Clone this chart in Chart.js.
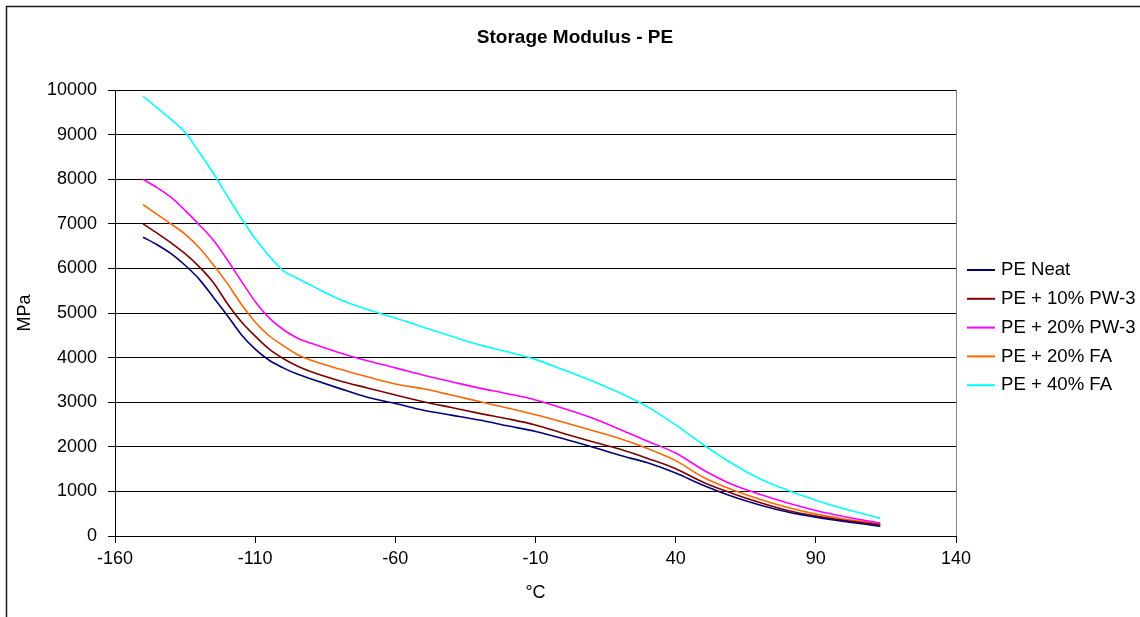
<!DOCTYPE html>
<html>
<head>
<meta charset="utf-8">
<title>Storage Modulus - PE</title>
<script src="https://cdn.jsdelivr.net/npm/chart.js@4.4.1/dist/chart.umd.min.js"></script>
<style>
  html, body { margin: 0; padding: 0; background: #fff; }
  #wrap { width: 1140px; height: 617px; }
</style>
</head>
<body>
<div id="wrap"><canvas id="modulusChart" width="1140" height="617"></canvas></div>
<script>
// temperature (°C) and storage modulus (MPa) for each blend
const temps = [-150, -145, -140, -135, -130, -125, -120, -115, -110, -105, -100, -95, -90,
               -80, -70, -60, -50, -40, -30, -20, -10, 0, 10, 20, 30, 40, 50, 60, 70, 80, 90, 100, 110, 113];

const peNeat  = [6700, 6530, 6330, 6070, 5760, 5360, 4950, 4520, 4190, 3940, 3770, 3630, 3520,
                 3310, 3110, 2970, 2820, 2710, 2600, 2470, 2345, 2180, 2000, 1810, 1640, 1410, 1130, 890, 695, 537, 420, 325, 244, 215];
const pe10PW3 = [7000, 6790, 6570, 6330, 6040, 5690, 5220, 4810, 4480, 4190, 3980, 3810, 3680,
                 3480, 3320, 3160, 3010, 2880, 2750, 2630, 2490, 2300, 2120, 1950, 1740, 1510, 1200, 960, 750, 572, 446, 350, 274, 250];
const pe20PW3 = [8000, 7810, 7590, 7300, 6980, 6640, 6200, 5720, 5260, 4890, 4630, 4440, 4320,
                 4110, 3930, 3770, 3605, 3460, 3315, 3190, 3050, 2860, 2650, 2395, 2125, 1860, 1475, 1160, 935, 740, 573, 438, 324, 290];
const pe20FA  = [7430, 7210, 6995, 6770, 6470, 6090, 5670, 5200, 4800, 4490, 4270, 4070, 3940,
                 3745, 3570, 3410, 3300, 3160, 3015, 2870, 2720, 2550, 2370, 2185, 1960, 1690, 1310, 1040, 823, 638, 490, 382, 298, 272];
const pe40FA  = [9860, 9600, 9340, 9050, 8610, 8140, 7630, 7130, 6670, 6280, 5950, 5780, 5620,
                 5310, 5080, 4890, 4680, 4480, 4285, 4130, 3960, 3725, 3480, 3210, 2895, 2490, 2040, 1630, 1285, 1025, 803, 610, 447, 395];

const seriesNames = ['PE Neat', 'PE + 10% PW-3', 'PE + 20% PW-3', 'PE + 20% FA', 'PE + 40% FA'];
const seriesValues = [peNeat, pe10PW3, pe20PW3, pe20FA, pe40FA];
const seriesColors = ['#000080', '#800000', '#FF00FF', '#FF6600', '#00FFFF'];

const chartTitle = 'Storage Modulus - PE';
const FONT = '"Liberation Sans", Arial, sans-serif';

// white page, outer frame, title and the grey right edge of the plot
const frame = {
    id: 'frame',
    beforeDraw(chart) {
        const ctx = chart.ctx;
        ctx.save();
        ctx.fillStyle = '#fff';
        ctx.fillRect(0, 0, chart.width, chart.height);
        ctx.strokeStyle = '#1a1a1a';
        ctx.lineWidth = 1.5;
        ctx.strokeRect(6.5, 6.5, chart.width + 10, chart.height + 10);
        ctx.font = 'bold 19px ' + FONT;
        ctx.fillStyle = '#000';
        ctx.textAlign = 'center';
        ctx.textBaseline = 'middle';
        ctx.fillText(chartTitle, chart.width / 2 + 5, 38);
        ctx.restore();
    },
    beforeDatasetsDraw(chart) {
        const {ctx, chartArea} = chart;
        const x = Math.round(chartArea.right) + 0.5;
        ctx.save();
        ctx.strokeStyle = '#808080';
        ctx.lineWidth = 1;
        ctx.beginPath();
        ctx.moveTo(x, chartArea.top);
        ctx.lineTo(x, chartArea.bottom);
        ctx.stroke();
        ctx.restore();
    }
};

// legend to the right of the plot, Excel style
const sideLegend = {
    id: 'sideLegend',
    afterDraw(chart) {
        const ctx = chart.ctx;
        const x0 = chart.chartArea.right + 11;
        ctx.save();
        ctx.font = '18.6px ' + FONT;
        ctx.textBaseline = 'middle';
        ctx.textAlign = 'left';
        chart.data.datasets.forEach((ds, i) => {
            const y = 270 + i * 28.8;
            ctx.strokeStyle = ds.borderColor;
            ctx.lineWidth = 2;
            ctx.beginPath();
            ctx.moveTo(x0, y);
            ctx.lineTo(x0 + 28, y);
            ctx.stroke();
            ctx.fillStyle = '#000';
            ctx.fillText(ds.label, x0 + 34, y);
        });
        ctx.restore();
    }
};

const ctx = document.getElementById('modulusChart').getContext('2d');
const modulusChart = new Chart(ctx, {
    type: 'line',
    data: {
        datasets: seriesNames.map((name, i) => ({
            label: name,
            data: temps.map((t, j) => ({ x: t, y: seriesValues[i][j] })),
            borderColor: seriesColors[i],
            backgroundColor: seriesColors[i],
            borderWidth: 1.6,
            pointRadius: 0,
            cubicInterpolationMode: 'monotone',
            fill: false
        }))
    },
    options: {
        responsive: false,
        animation: false,
        layout: { padding: { left: 0, right: 184, top: 90, bottom: 0 } },
        plugins: {
            legend: { display: false },
            tooltip: { enabled: false },
            title: { display: false }
        },
        scales: {
            x: {
                type: 'linear',
                min: -160,
                max: 140,
                afterFit: (scale) => { scale.height = 81; },
                ticks: {
                    stepSize: 50,
                    color: '#000',
                    padding: 5,
                    maxRotation: 0,
                    font: { family: FONT, size: 18 },
                    callback: (v) => String(v)
                },
                grid: { drawOnChartArea: false, drawTicks: true, tickLength: 7, color: '#000' },
                border: { color: '#000', width: 1 },
                title: {
                    display: true,
                    text: '°C',
                    color: '#000',
                    font: { family: FONT, size: 18 },
                    padding: { top: 0, bottom: 13 }
                }
            },
            y: {
                min: 0,
                max: 10000,
                afterFit: (scale) => { scale.width = 115; },
                ticks: {
                    stepSize: 1000,
                    color: '#000',
                    padding: 11,
                    font: { family: FONT, size: 18 },
                    callback: (v) => String(v)
                },
                grid: { color: '#000', lineWidth: 1, tickLength: 7 },
                border: { color: '#000', width: 1 },
                title: {
                    display: true,
                    text: 'MPa',
                    color: '#000',
                    font: { family: FONT, size: 18 },
                    padding: { top: 14, bottom: 0 }
                }
            }
        }
    },
    plugins: [frame, sideLegend]
});
</script>
</body>
</html>
